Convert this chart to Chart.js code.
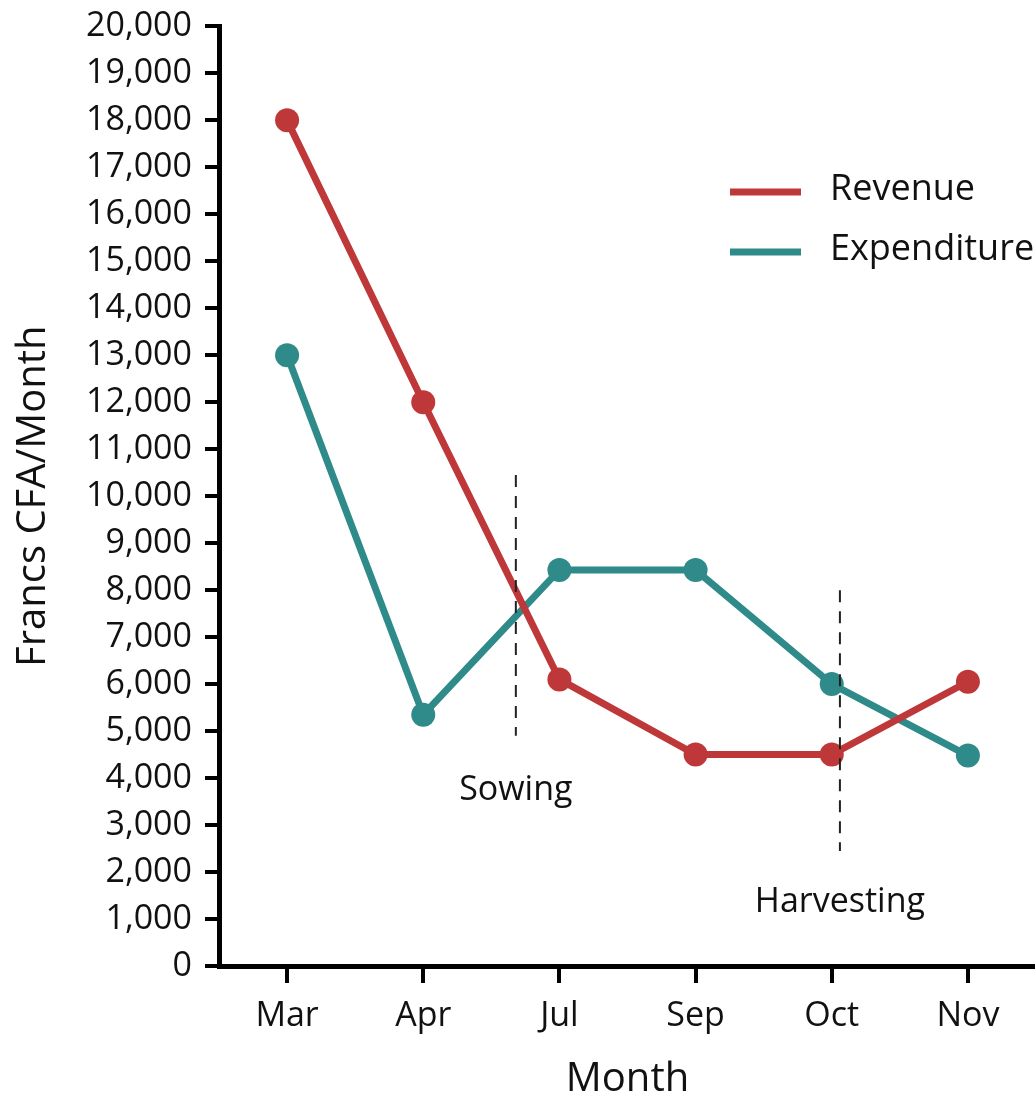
<!DOCTYPE html>
<html>
<head>
<meta charset="utf-8">
<script src="https://cdn.jsdelivr.net/npm/chart.js@4.4.1/dist/chart.umd.min.js"></script>
<style>
  html, body { margin: 0; padding: 0; background: #fff; overflow: hidden; }
  #wrap { position: relative; top: -7px; width: 1048px; height: 1104px; }
</style>
</head>
<body>
<div id="wrap"><canvas id="chart"></canvas></div>
<script>
const months = ["Mar", "Apr", "Jul", "Sep", "Oct", "Nov"];
const revenue = [18000, 12000, 6100, 4500, 4500, 6050];
const expenditure = [13000, 5350, 8430, 8430, 6000, 4480];

// season markers: position in category units, dashed span, label height
const phaseNames = ["Sowing", "Harvesting"];
const phaseAt = [1.68, 4.06];
const phaseTop = [10450, 8000];
const phaseBottom = [4900, 2450];
const phaseLabelY = [3750, 1350];

const RED = "#be3839";
const TEAL = "#2f8b89";
const FONT = "'Open Sans', 'DejaVu Sans', sans-serif";

const phasePlugin = {
  id: "phases",
  afterDatasetsDraw(chart) {
    const { ctx, scales: { x, y } } = chart;
    ctx.save();
    ctx.strokeStyle = "#222";
    ctx.lineWidth = 2;
    ctx.setLineDash([12, 9]);
    phaseNames.forEach((name, i) => {
      const px = x.getPixelForValue(phaseAt[i]);
      ctx.beginPath();
      ctx.moveTo(px, y.getPixelForValue(phaseTop[i]));
      ctx.lineTo(px, y.getPixelForValue(phaseBottom[i]));
      ctx.stroke();
    });
    ctx.setLineDash([]);
    ctx.fillStyle = "#111";
    ctx.font = "34px " + FONT;
    ctx.textAlign = "center";
    ctx.textBaseline = "middle";
    phaseNames.forEach((name, i) => {
      ctx.fillText(name, x.getPixelForValue(phaseAt[i]), y.getPixelForValue(phaseLabelY[i]));
    });
    ctx.restore();
  },
  afterDraw(chart) {
    // legend inside the plot, upper right (canvas is shifted up 7px)
    const ctx = chart.ctx;
    ctx.save();
    ctx.font = "36px " + FONT;
    ctx.textBaseline = "middle";
    ctx.textAlign = "left";
    chart.data.datasets.forEach((ds, i) => {
      const yy = 199 + i * 60;
      ctx.strokeStyle = ds.borderColor;
      ctx.lineWidth = 7;
      ctx.beginPath();
      ctx.moveTo(730, yy);
      ctx.lineTo(801, yy);
      ctx.stroke();
      ctx.fillStyle = "#111";
      ctx.fillText(ds.label, 830, yy - 2);
    });
    ctx.restore();
  }
};

new Chart(document.getElementById("chart"), {
  type: "line",
  data: {
    labels: months,
    datasets: [
      {
        label: "Revenue",
        data: revenue,
        borderColor: RED,
        backgroundColor: RED,
        borderWidth: 7,
        pointRadius: 12,
        pointHoverRadius: 12,
        pointBorderWidth: 0,
        tension: 0
      },
      {
        label: "Expenditure",
        data: expenditure,
        borderColor: TEAL,
        backgroundColor: TEAL,
        borderWidth: 7,
        pointRadius: 12,
        pointHoverRadius: 12,
        pointBorderWidth: 0,
        tension: 0
      }
    ]
  },
  options: {
    responsive: true,
    maintainAspectRatio: false,
    animation: false,
    layout: { padding: { top: 5, right: 0, left: 0, bottom: 0 } },
    plugins: {
      legend: { display: false },
      tooltip: { enabled: false }
    },
    scales: {
      x: {
        offset: true,
        grid: {
          display: true,
          drawOnChartArea: false,
          drawTicks: true,
          tickLength: 17,
          color: "#000",
          lineWidth: 4,
          offset: false
        },
        border: { display: true, color: "#000", width: 5 },
        ticks: {
          color: "#111",
          font: { family: FONT, size: 34 },
          padding: 13
        },
        title: {
          display: true,
          text: "Month",
          color: "#111",
          font: { family: FONT, size: 40 },
          padding: { top: 18, bottom: -7 }
        },
        afterFit(scale) { scale.height = 131; }
      },
      y: {
        min: 0,
        max: 20000,
        ticks: {
          stepSize: 1000,
          color: "#111",
          font: { family: FONT, size: 34 },
          padding: 13,
          callback: (v) => v.toLocaleString("en-US")
        },
        grid: {
          display: true,
          drawOnChartArea: false,
          drawTicks: true,
          tickLength: 14,
          color: "#000",
          lineWidth: 4
        },
        border: { display: true, color: "#000", width: 5 },
        title: {
          display: true,
          text: "Francs CFA/Month",
          color: "#111",
          font: { family: FONT, size: 40 },
          padding: { top: 10, bottom: 4 }
        },
        afterFit(scale) { scale.width = 219; }
      }
    }
  },
  plugins: [phasePlugin]
});
</script>
</body>
</html>
